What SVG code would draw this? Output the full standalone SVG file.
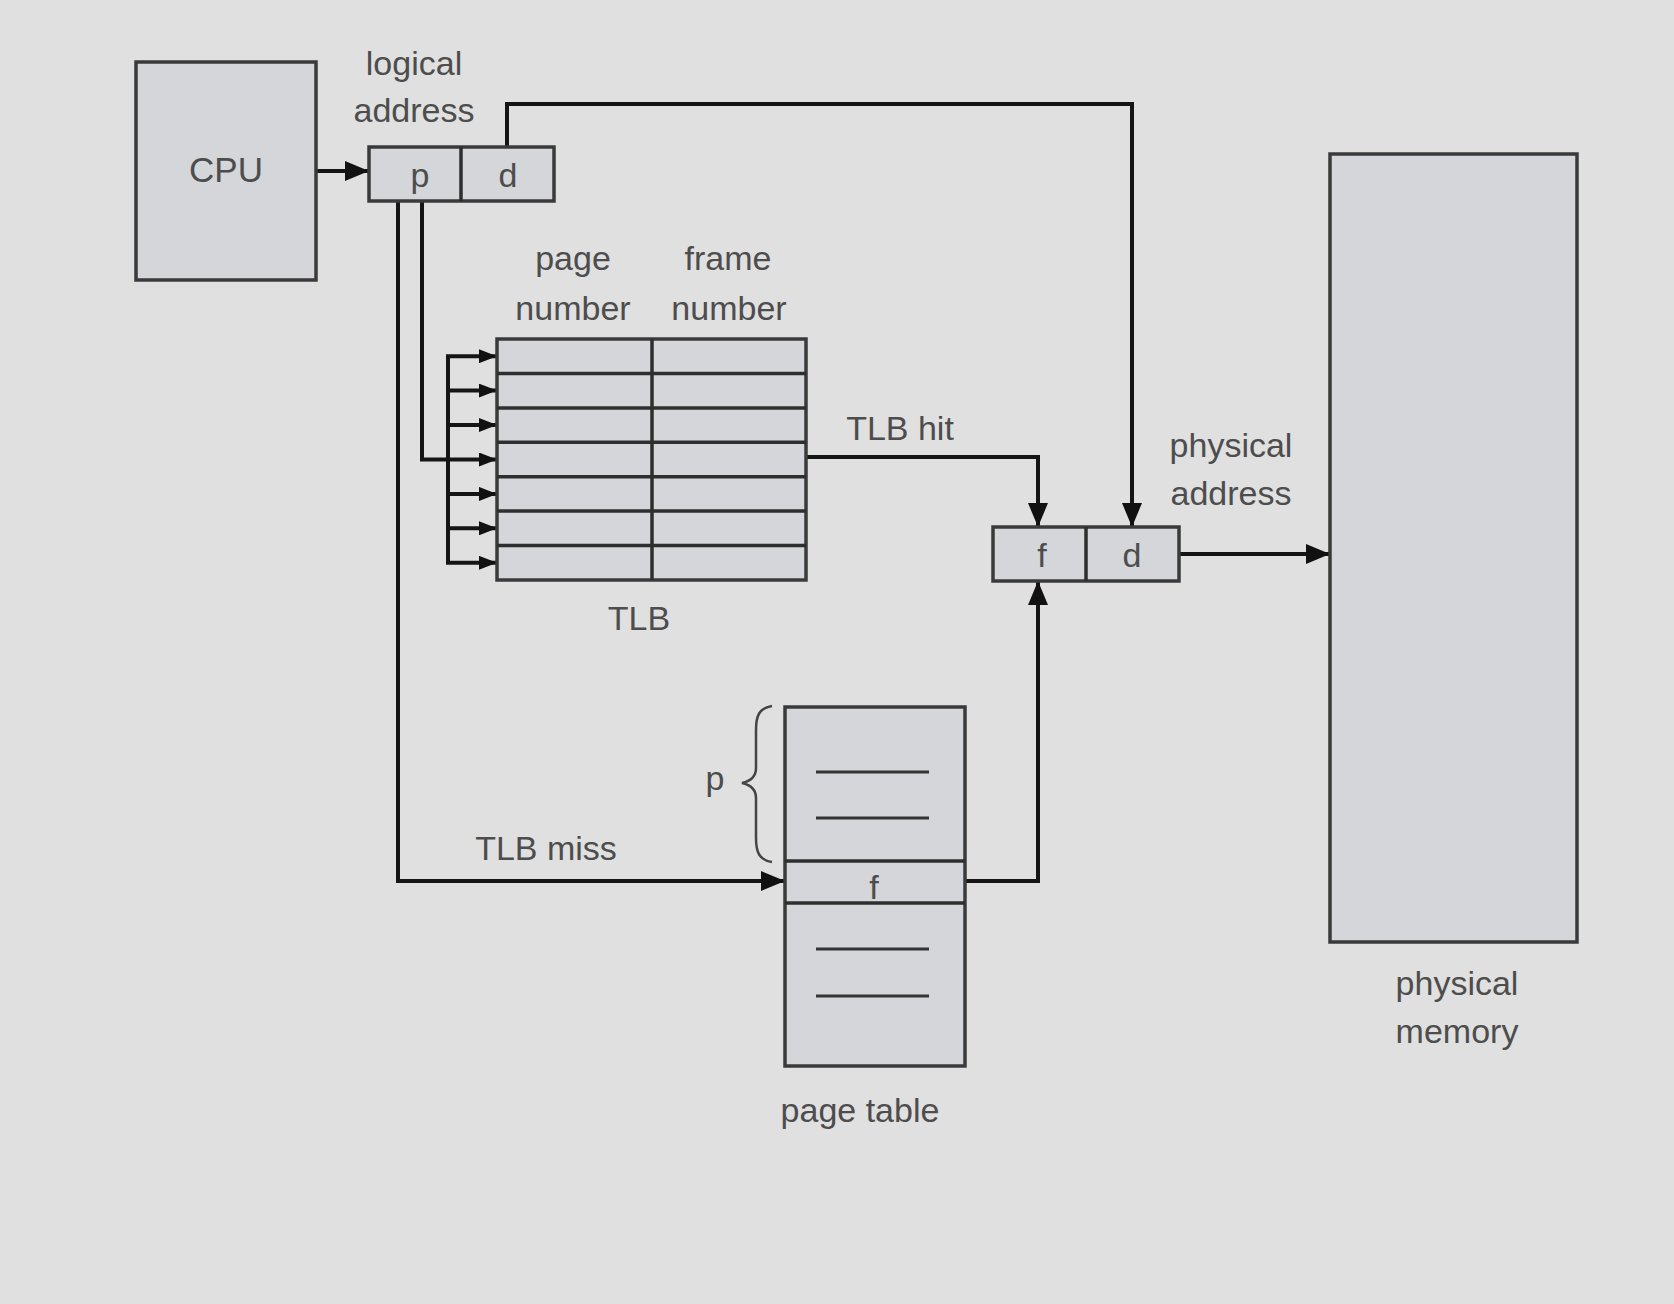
<svg xmlns="http://www.w3.org/2000/svg" width="1674" height="1304" viewBox="0 0 1674 1304">
<defs>
<style>
.box{fill:#d4d6d9;stroke:#3a3a3a;stroke-width:3.5}
.div{stroke:#2e2e2e;stroke-width:3.5;fill:none}
.thin{stroke:#333;stroke-width:3;fill:none}
.con{stroke:#151515;stroke-width:4;fill:none}
.lbl{font-family:"Liberation Sans",Arial,sans-serif;font-size:34px;fill:#4d4d4d;text-anchor:middle}
</style>
<marker id="ah" markerUnits="userSpaceOnUse" markerWidth="24" markerHeight="20" refX="23" refY="10" orient="auto">
<path d="M0,0 L24,10 L0,20 z" fill="#111"/>
</marker>
<marker id="as" markerUnits="userSpaceOnUse" markerWidth="18" markerHeight="14" refX="17" refY="7" orient="auto">
<path d="M0,0 L18,7 L0,14 z" fill="#111"/>
</marker>
</defs>
<rect x="0" y="0" width="1674" height="1304" fill="#e0e0e0"/>

<g id="connectors">
<line class="con" x1="316" y1="171" x2="368" y2="171" marker-end="url(#ah)"/>
<polyline class="con" points="507,146 507,104 1132,104 1132,526" marker-end="url(#ah)"/>
<polyline class="con" points="398,201 398,881 784,881" marker-end="url(#ah)"/>
<polyline class="con" points="422,201 422,459.5 448,459.5"/>
<line class="con" x1="448" y1="356" x2="448" y2="563"/>
<line class="con" x1="446" y1="356.2" x2="496" y2="356.2" marker-end="url(#as)"/>
<line class="con" x1="446" y1="390.6" x2="496" y2="390.6" marker-end="url(#as)"/>
<line class="con" x1="446" y1="425" x2="496" y2="425" marker-end="url(#as)"/>
<line class="con" x1="446" y1="459.5" x2="496" y2="459.5" marker-end="url(#as)"/>
<line class="con" x1="446" y1="493.9" x2="496" y2="493.9" marker-end="url(#as)"/>
<line class="con" x1="446" y1="528.3" x2="496" y2="528.3" marker-end="url(#as)"/>
<line class="con" x1="446" y1="562.8" x2="496" y2="562.8" marker-end="url(#as)"/>
<polyline class="con" points="806,457 1038,457 1038,526" marker-end="url(#ah)"/>
<polyline class="con" points="965,881 1038,881 1038,582" marker-end="url(#ah)"/>
<line class="con" x1="1179" y1="554" x2="1329" y2="554" marker-end="url(#ah)"/>
</g>

<g id="cpu">
<rect class="box" x="136" y="62" width="180" height="218"/>
<text class="lbl" x="226" y="182" style="font-size:35px">CPU</text>
</g>

<g id="logical-address">
<rect class="box" x="369" y="147" width="185" height="54"/>
<line class="div" x1="461" y1="147" x2="461" y2="201"/>
<text class="lbl" x="420" y="187">p</text>
<text class="lbl" x="508" y="187">d</text>
<text class="lbl" x="414" y="75">logical</text>
<text class="lbl" x="414" y="122">address</text>
</g>

<g id="tlb">
<rect class="box" x="497" y="339" width="309" height="241"/>
<line class="div" x1="652" y1="339" x2="652" y2="580"/>
<line class="div" x1="497" y1="373.4" x2="806" y2="373.4"/>
<line class="div" x1="497" y1="407.9" x2="806" y2="407.9"/>
<line class="div" x1="497" y1="442.3" x2="806" y2="442.3"/>
<line class="div" x1="497" y1="476.7" x2="806" y2="476.7"/>
<line class="div" x1="497" y1="511.1" x2="806" y2="511.1"/>
<line class="div" x1="497" y1="545.6" x2="806" y2="545.6"/>
<text class="lbl" x="573" y="270">page</text>
<text class="lbl" x="573" y="320">number</text>
<text class="lbl" x="728" y="270">frame</text>
<text class="lbl" x="729" y="320">number</text>
<text class="lbl" x="639" y="630">TLB</text>
</g>

<g id="physical-address">
<rect class="box" x="993" y="527" width="186" height="54"/>
<line class="div" x1="1086" y1="527" x2="1086" y2="581"/>
<text class="lbl" x="1042" y="567">f</text>
<text class="lbl" x="1132" y="567">d</text>
<text class="lbl" x="1231" y="457">physical</text>
<text class="lbl" x="1231" y="505">address</text>
</g>

<g id="tlb-labels">
<text class="lbl" x="900" y="440">TLB hit</text>
<text class="lbl" x="546" y="860">TLB miss</text>
</g>

<g id="page-table">
<rect class="box" x="785" y="707" width="180" height="359"/>
<line class="div" x1="785" y1="861" x2="965" y2="861"/>
<line class="div" x1="785" y1="903" x2="965" y2="903"/>
<line class="thin" x1="816" y1="772" x2="929" y2="772"/>
<line class="thin" x1="816" y1="818" x2="929" y2="818"/>
<line class="thin" x1="816" y1="949" x2="929" y2="949"/>
<line class="thin" x1="816" y1="996" x2="929" y2="996"/>
<text class="lbl" x="874" y="899">f</text>
<path d="M772,706 C759,708 756,716 756,730 L756,768 C756,777 751,781 742,783 C751,785 756,789 756,798 L756,838 C756,852 759,860 772,862" fill="none" stroke="#444" stroke-width="2.5"/>
<text class="lbl" x="715" y="790">p</text>
<text class="lbl" x="860" y="1122">page table</text>
</g>

<g id="physical-memory">
<rect class="box" x="1330" y="154" width="247" height="788"/>
<text class="lbl" x="1457" y="995">physical</text>
<text class="lbl" x="1457" y="1043">memory</text>
</g>
</svg>
